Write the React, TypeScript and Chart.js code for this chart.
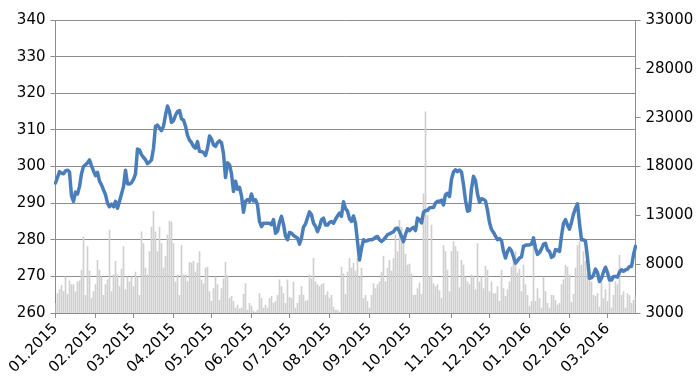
import React, { useEffect, useRef } from 'react';
import { Chart, registerables } from 'chart.js';

Chart.register(...registerables);

const monthLabels = ['01.2015', '02.2015', '03.2015', '04.2015', '05.2015', '06.2015', '07.2015', '08.2015', '09.2015', '10.2015', '11.2015', '12.2015', '01.2016', '02.2016', '03.2016'];
const monthIndex = [0, 20, 39, 59, 78, 98, 117, 137, 157, 177, 198, 217, 237, 257, 276];

const price = [
  295.5, 297, 298.6, 298.2, 298, 298.8, 299, 298.5, 292, 290.5,
  293, 292.5, 294.5, 298, 300, 300.5, 301, 301.8, 300.2, 298.8,
  297.5, 298.4, 296, 295, 293.6, 292.3, 290, 289, 289.7, 289,
  290.5, 288.6, 290.5, 292.5, 294.5, 299, 295.3, 295.2, 295.6, 296.5,
  298, 304.8, 304.5, 303.2, 302.5, 301.8, 300.8, 301.2, 301.8, 305,
  311, 311.3, 310.5, 309.8, 311, 314, 316.5, 315, 312, 312.5,
  314, 315, 315.3, 313, 312.7, 311, 308.5, 307.2, 306.5, 305.5,
  305, 306.8, 304.1, 304.1, 303.8, 303, 305, 308.3, 307.5, 305.9,
  305.5, 306.5, 307, 306.5, 303.5, 297, 301, 300.5, 298, 293.2,
  296, 293.8, 294.3, 292, 287.5, 290.5, 291, 290.5, 292.5, 290.6,
  290.9, 289.5, 285, 283.6, 284.5, 284.5, 284.5, 284.5, 284.1, 285.5,
  281.8, 282.3, 284.8, 286.4, 284.2, 281, 280, 282, 281.8, 281.2,
  280.8, 280.5, 278.8, 280.5, 283.5, 284.3, 286, 287.6, 286.8, 284.5,
  283.7, 282.2, 283.5, 285.5, 285.9, 284, 284, 284.7, 285, 284.5,
  285.6, 286.5, 287.3, 286.4, 290.4, 288.5, 287.8, 285.7, 285, 286.5,
  284.5, 279.5, 274.5, 277.7, 280, 279.6, 279.8, 280, 280, 280.2,
  280.7, 280.9, 280, 279.5, 280, 280.6, 281.4, 281.6, 281.9, 282.2,
  283, 283.2, 282.2, 280.9, 279.5, 281.5, 283, 282.5, 283, 283.4,
  282.5, 285.9, 285.5, 284.6, 287.5, 288, 288, 288.7, 288.8, 288.8,
  290, 290.5, 290.5, 290.8, 289.5, 292.3, 292.7, 291.8, 296.5, 298.5,
  299.1, 298.6, 299, 298.5, 295, 290.8, 287.8, 288, 294, 297.3,
  296.2, 292.5, 290.2, 291.2, 291, 290.6, 288, 284.7, 282.8, 282,
  281, 280, 280.3, 279.8, 276.8, 275, 276.8, 277.7, 277, 275.3,
  273.6, 274.3, 275, 275.3, 278.2, 278.5, 278.6, 278.6, 278.8, 280.5,
  277.7, 276, 276.5, 277.5, 278.8, 279, 277.2, 276.8, 275.2, 275.5,
  277.3, 277.2, 276.8, 281, 284.5, 285.5, 284, 282.9, 284.8, 287,
  288.6, 289.8, 284.5, 280, 280, 279.6, 275, 269.5, 269.6, 270.4,
  272, 271, 268.6, 269.5, 271.2, 272.5, 271, 269, 269, 270,
  270, 269.8, 271.2, 271.8, 271.4, 271.8, 272, 272.7, 272.7, 275.9,
  278.2,
];

const volume = [
  4000, 5000, 5400, 5800, 5200, 6700, 4900, 6300, 5900, 5900,
  5200, 6200, 6300, 7400, 10800, 4800, 9800, 7300, 4500, 5200,
  5900, 8400, 7400, 6700, 4800, 5900, 6400, 11500, 5200, 6900,
  8300, 6900, 5700, 7500, 9800, 5400, 6700, 6200, 6700, 5700,
  7200, 6700, 4800, 11300, 10100, 7600, 6900, 9300, 11800, 13400,
  11300, 9300, 11800, 10100, 7600, 8800, 11000, 12400, 12300, 10100,
  6200, 6900, 4800, 9900, 6900, 6900, 6200, 8200, 8100, 8300,
  7200, 8100, 9300, 6400, 6000, 7600, 7700, 5200, 4200, 5500,
  6700, 5900, 4300, 5500, 6500, 8200, 6800, 4500, 4700, 4200,
  3500, 3800, 3400, 3500, 4900, 6000, 3300, 4000, 3700, 3200,
  3100, 3300, 5000, 4500, 3500, 3800, 3500, 4500, 4700, 4000,
  4200, 4800, 6400, 5700, 5000, 4000, 6400, 4600, 4500, 6200,
  3500, 4000, 4800, 5700, 4800, 4200, 4300, 6900, 6500, 8600,
  6200, 5900, 5700, 5900, 6000, 4800, 5200, 4500, 4800, 3600,
  3300, 3300, 3100, 7700, 7000, 4900, 7200, 8600, 7600, 8100,
  7300, 8600, 6700, 7600, 4500, 4800, 4200, 3500, 4800, 6000,
  5500, 5900, 6200, 7200, 8800, 6200, 7600, 8400, 7300, 8600,
  11000, 9300, 12500, 11800, 10300, 9000, 7900, 8000, 7000, 4800,
  4800, 5500, 6100, 4900, 15200, 23600, 13000, 6700, 12000, 6000,
  5700, 5900, 5300, 4500, 9900, 9300, 7400, 5200, 9300, 10300,
  9800, 9300, 5600, 8400, 7900, 6700, 6200, 5900, 6900, 6800,
  5400, 10100, 6200, 6700, 5500, 7800, 7400, 5200, 6200, 5000,
  5000, 5700, 4200, 7400, 5500, 4700, 5400, 6200, 7700, 8500,
  9300, 7100, 7500, 5200, 7900, 5900, 4800, 3700, 4200, 10600,
  4200, 5500, 4500, 3500, 6700, 5200, 4000, 3500, 4800, 4800,
  4300, 3800, 4000, 5900, 6400, 7900, 7700, 6900, 4100, 4900,
  7600, 9900, 10300, 7900, 9300, 8300, 6900, 6400, 6200, 4800,
  4700, 5000, 3600, 6200, 4500, 5400, 4200, 6200, 3500, 4800,
  6200, 5900, 8900, 4800, 5200, 3500, 5000, 4800, 4000, 4300,
  4800,
];

const FONT = { family: 'DejaVu Sans', size: 15 };
const AXIS = '#8c8c8c';

export default function App() {
  const ref = useRef<HTMLCanvasElement>(null);

  useEffect(() => {
    document.body.style.margin = '0';
    const labels = price.map((_, i) => {
      const k = monthIndex.indexOf(i);
      return k >= 0 ? monthLabels[k] : '';
    });
    const chart = new Chart(ref.current as HTMLCanvasElement, {
      type: 'bar',
      data: {
        labels,
        datasets: [
          {
            type: 'line',
            data: price,
            yAxisID: 'y',
            borderColor: '#4a7ebb',
            borderWidth: 3.5,
            pointRadius: 0,
            tension: 0,
            borderJoinStyle: 'round',
            borderCapStyle: 'round',
            order: 0,
          } as any,
          {
            type: 'bar',
            data: volume,
            yAxisID: 'y1',
            backgroundColor: '#cfcfcf',
            barThickness: 1,
            order: 1,
          } as any,
        ],
      },
      options: {
        animation: false,
        responsive: false,
        maintainAspectRatio: false,
        layout: { padding: { top: 20, left: 0, right: 0, bottom: 0 } },
        plugins: { legend: { display: false }, tooltip: { enabled: false } },
        scales: {
          x: {
            type: 'category',
            offset: false,
            grid: { offset: false, drawOnChartArea: false, drawTicks: true, tickLength: 5, color: AXIS },
            border: { color: AXIS },
            ticks: { autoSkip: false, minRotation: 45, maxRotation: 45, padding: 2, color: '#000', font: FONT },
            afterBuildTicks: (s: any) => {
              s.ticks = monthIndex.map((v) => ({ value: v }));
            },
            afterFit: (s: any) => {
              s.height = 70;
            },
          },
          y: {
            position: 'left',
            min: 260,
            max: 340,
            grid: { color: AXIS, tickLength: 5 },
            border: { color: AXIS },
            ticks: { stepSize: 10, padding: 5, color: '#000', font: FONT },
            afterFit: (s: any) => {
              s.width = 55.5;
            },
          },
          y1: {
            position: 'right',
            min: 3000,
            max: 33000,
            grid: { drawOnChartArea: false, color: AXIS, tickLength: 5 },
            border: { color: AXIS },
            ticks: {
              stepSize: 5000,
              padding: 5,
              color: '#000',
              font: FONT,
              callback: (v: any) => String(v),
            },
            afterFit: (s: any) => {
              s.width = 64.5;
            },
          },
        },
      } as any,
    });
    return () => chart.destroy();
  }, []);

  return (
    <div style={{ position: 'fixed', left: 0, top: 0, width: 700, height: 383 }}>
      <canvas ref={ref} width={700} height={383} style={{ width: 700, height: 383 }} />
    </div>
  );
}
